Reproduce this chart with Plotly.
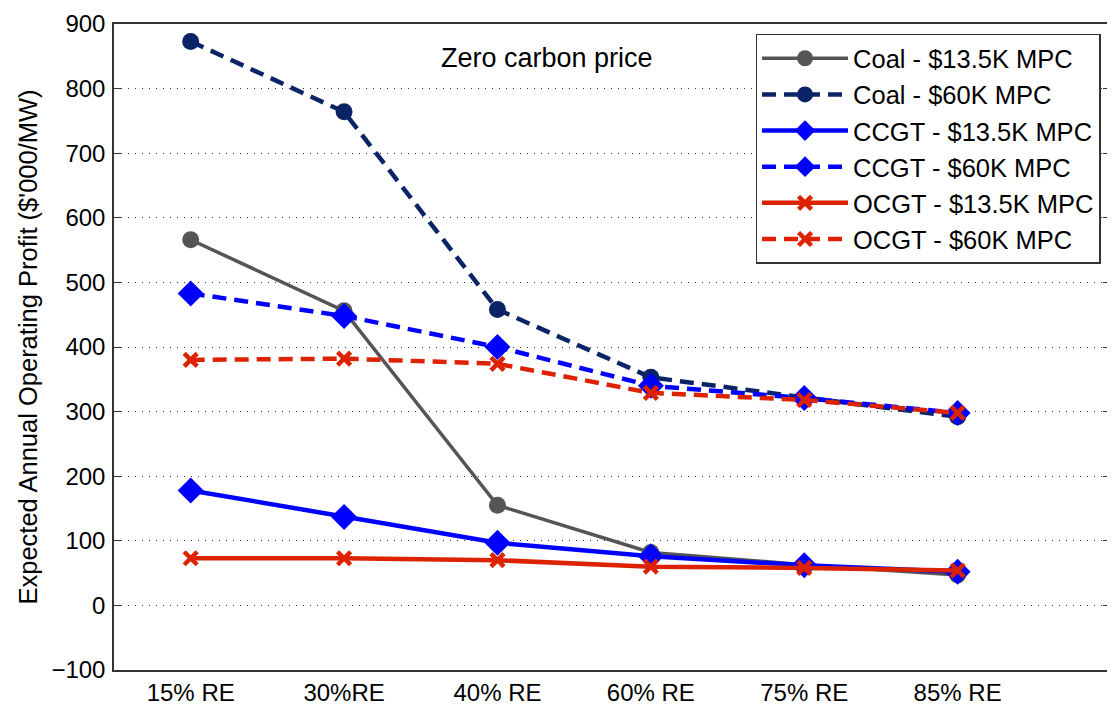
import plotly.graph_objects as go

categories = ["15% RE", "30%RE", "40% RE", "60% RE", "75% RE", "85% RE"]
xpos = [1, 2, 3, 4, 5, 6]

coal_135 = [566, 456, 155, 82, 63, 47]
coal_60 = [873, 764, 458, 353, 322, 292]
ccgt_135 = [178, 137, 97, 76, 62, 52]
ccgt_60 = [483, 448, 400, 340, 321, 298]
ocgt_135 = [73, 73, 70, 60, 58, 54]
ocgt_60 = [380, 382, 374, 329, 318, 298]

yticks = [-100, 0, 100, 200, 300, 400, 500, 600, 700, 800, 900]

series = [
    ("Coal - $13.5K MPC", coal_135, "#555555", "solid", 3.5, "circle", 17),
    ("Coal - $60K MPC", coal_60, "#0b2468", "14px,8px", 4.5, "circle", 17),
    ("CCGT - $13.5K MPC", ccgt_135, "#0000ff", "solid", 4.5, "diamond", 20),
    ("CCGT - $60K MPC", ccgt_60, "#0000ff", "14px,8px", 4.5, "diamond", 20),
    ("OCGT - $13.5K MPC", ocgt_135, "#dd2200", "solid", 4.5, "x-thin-open", 13),
    ("OCGT - $60K MPC", ocgt_60, "#dd2200", "14px,8px", 4.5, "x-thin-open", 13),
]

FONT = "Liberation Sans, Arial"

fig = go.Figure()
for i, (name, vals, color, dash, lw, sym, size) in enumerate(series):
    fig.add_trace(go.Scatter(
        x=xpos, y=vals, name=name, mode="lines+markers",
        line=dict(color=color, width=lw, dash=dash),
        marker=dict(symbol=sym, size=size, color=color,
                    line=dict(color=color, width=4.5 if "x" in sym else 0)),
        legendgroup=f"g{i}",
    ))

fig.add_annotation(text="Zero carbon price", x=0.434, y=0.947, xref="paper", yref="paper",
                   showarrow=False, font=dict(size=27, color="black", family=FONT),
                   xanchor="center", yanchor="middle")

fig.update_layout(
    width=1107, height=697,
    margin=dict(l=106, r=4, t=16, b=35),
    paper_bgcolor="white", plot_bgcolor="white",
    font=dict(family=FONT, size=24, color="black"),
    showlegend=True,
    legend=dict(x=0.9895, y=0.985, xanchor="right", yanchor="top",
                bgcolor="white", bordercolor="#333333", borderwidth=1.5,
                font=dict(size=25.5), tracegroupgap=2, itemwidth=86,
                traceorder="normal"),
    xaxis=dict(range=[0.5, 7], tickvals=xpos, ticktext=categories,
               showgrid=False, zeroline=False, showline=True, linecolor="#333333",
               linewidth=1.5, mirror=True, ticks="", tickfont=dict(size=24),
               automargin=False),
    yaxis=dict(range=[-100, 900], tickvals=yticks, showgrid=True,
               gridcolor="#333333", griddash="1px,6px", gridwidth=1.2,
               zeroline=False, showline=True, linecolor="#333333", linewidth=1.5,
               mirror="ticks", ticks="inside", ticklen=8, tickcolor="#333333",
               tickfont=dict(size=24), ticklabelstandoff=2, automargin=False,
               title=dict(text="Expected Annual Operating Profit ($'000/MW)",
                          font=dict(size=25.5), standoff=6)),
)

fig.write_html("out.html")
